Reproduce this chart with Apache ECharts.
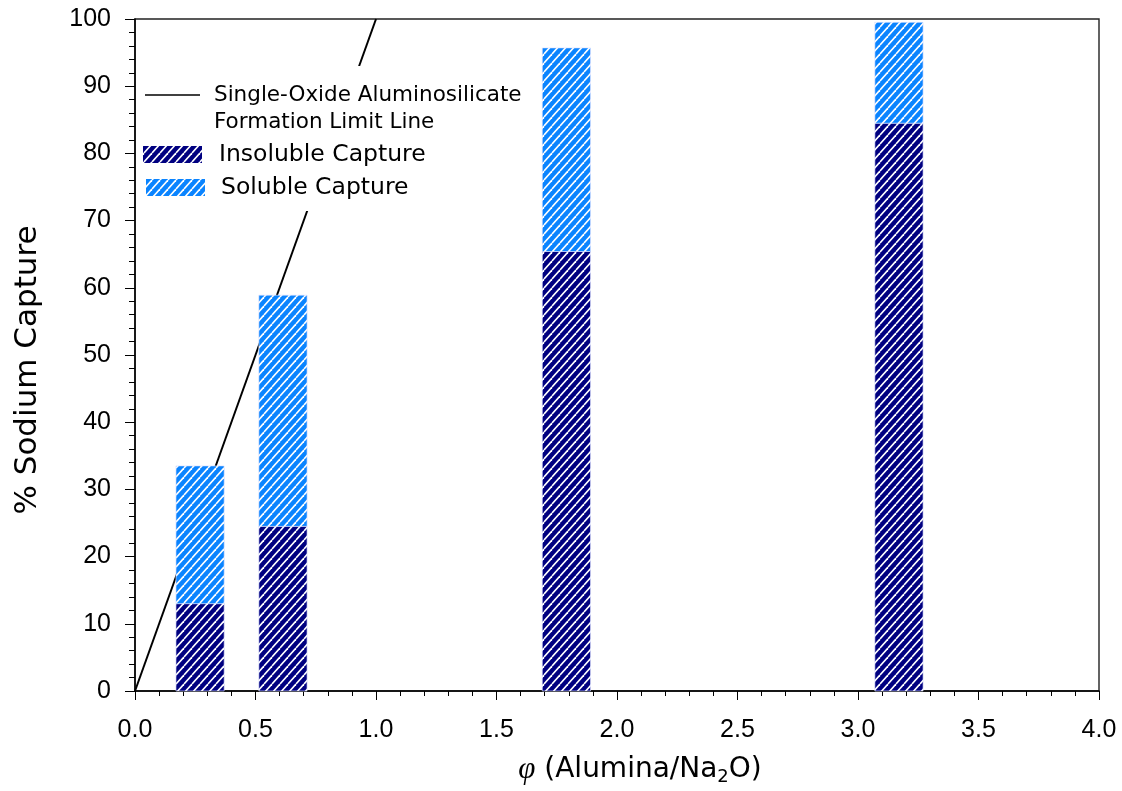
<!DOCTYPE html>
<html>
<head>
<meta charset="utf-8">
<script src="https://cdn.jsdelivr.net/npm/echarts@6/dist/echarts.min.js"></script>
<style>
html,body{margin:0;padding:0;background:#fff;}
#chart{width:1122px;height:791px;}
</style>
</head>
<body>
<div id="chart"></div>
<script>
// ---- data ----
const phi = [0.27, 0.614, 1.79, 3.17];
const insoluble = [13.0, 24.5, 65.4, 84.5];
const soluble = [20.5, 34.4, 30.3, 15.0];
const limitLine = [[0, 0], [1, 100]];
const xTicks = ['0.0','0.5','1.0','1.5','2.0','2.5','3.0','3.5','4.0'];
const legendNames = ['Single-Oxide Aluminosilicate', 'Formation Limit Line', 'Insoluble Capture', 'Soluble Capture'];

function hatch(bg) {
  const w = 8, h = 9;
  const c = document.createElement('canvas');
  c.width = w; c.height = h;
  const ctx = c.getContext('2d');
  ctx.fillStyle = bg; ctx.fillRect(0, 0, w, h);
  ctx.strokeStyle = '#ffffff'; ctx.lineWidth = 1.6;
  for (const dx of [-w, 0, w]) {
    ctx.beginPath(); ctx.moveTo(dx, h); ctx.lineTo(dx + w, 0); ctx.stroke();
  }
  return { image: c, repeat: 'repeat' };
}
const navy = '#000080', blue = '#0a84ff';
const patNavy = hatch(navy), patBlue = hatch(blue);

const insolData = phi.map((p, i) => [p, 0, insoluble[i]]);
const solData = phi.map((p, i) => [p, insoluble[i], insoluble[i] + soluble[i]]);
const halfW = 0.1;

function makeRender(pat) {
  return function (params, api) {
    const x = api.value(0), y0 = api.value(1), y1 = api.value(2);
    const a = api.coord([x - halfW, y1]);
    const b = api.coord([x + halfW, y0]);
    return {
      type: 'rect',
      shape: { x: a[0], y: a[1], width: b[0] - a[0], height: b[1] - a[1] },
      style: { fill: pat, stroke: 'rgba(220,225,255,0.8)', lineWidth: 0.8 }
    };
  };
}

const chart = echarts.init(document.getElementById('chart'), null, { renderer: 'canvas' });
const tickFont = { fontFamily: 'Liberation Sans', fontSize: 25, color: '#000' };
const legFont = 'DejaVu Sans';

chart.setOption({
  animation: false,
  backgroundColor: '#fff',
  grid: { left: 135, right: 23, top: 19, bottom: 100, show: true, borderColor: '#222', borderWidth: 1.4, backgroundColor: 'transparent' },
  xAxis: {
    type: 'value', min: 0, max: 4, interval: 0.5,
    axisLine: { show: true, lineStyle: { color: '#000', width: 1.5 } },
    axisTick: { show: true, inside: false, length: 9, lineStyle: { color: '#000', width: 1 } },
    minorTick: { show: true, splitNumber: 5, length: 5, lineStyle: { color: '#000', width: 1 } },
    splitLine: { show: false },
    axisLabel: Object.assign({ margin: 27, formatter: (v) => xTicks[Math.round(v / 0.5)] }, tickFont)
  },
  yAxis: {
    type: 'value', min: 0, max: 100, interval: 10,
    axisLine: { show: true, lineStyle: { color: '#000', width: 1.5 } },
    axisTick: { show: true, inside: false, length: 10, lineStyle: { color: '#000', width: 1 } },
    minorTick: { show: true, splitNumber: 5, length: 6, lineStyle: { color: '#000', width: 1 } },
    splitLine: { show: false },
    axisLabel: Object.assign({ margin: 24 }, tickFont)
  },
  series: [
    { type: 'line', data: limitLine, symbol: 'none', lineStyle: { color: '#000', width: 2 }, z: 1, silent: true },
    { type: 'custom', name: 'Insoluble Capture', data: insolData, renderItem: makeRender(patNavy), encode: { x: 0, y: [1, 2] }, z: 2 },
    { type: 'custom', name: 'Soluble Capture', data: solData, renderItem: makeRender(patBlue), encode: { x: 0, y: [1, 2] }, z: 2 }
  ],
  graphic: [
    { type: 'rect', z: 50, shape: { x: 138, y: 66, width: 390, height: 145 }, style: { fill: '#fff' } },
    { type: 'line', z: 51, shape: { x1: 145, y1: 95, x2: 200, y2: 95 }, style: { stroke: '#000', lineWidth: 1.5 } },
    { type: 'text', z: 51, style: { x: 214, y: 95, text: legendNames[0], font: '21.5px "' + legFont + '"', fill: '#000', verticalAlign: 'middle' } },
    { type: 'text', z: 51, style: { x: 214, y: 122, text: legendNames[1], font: '21.5px "' + legFont + '"', fill: '#000', verticalAlign: 'middle' } },
    { type: 'rect', z: 51, shape: { x: 143, y: 146, width: 59, height: 17 }, style: { fill: patNavy } },
    { type: 'text', z: 51, style: { x: 219, y: 155, text: legendNames[2], font: '23.5px "' + legFont + '"', fill: '#000', verticalAlign: 'middle' } },
    { type: 'rect', z: 51, shape: { x: 146, y: 179, width: 59, height: 17 }, style: { fill: patBlue } },
    { type: 'text', z: 51, style: { x: 221, y: 188, text: legendNames[3], font: '23.5px "' + legFont + '"', fill: '#000', verticalAlign: 'middle' } },
    { type: 'text', z: 51, x: 28, y: 370, rotation: Math.PI / 2,
      style: { x: 0, y: 0, text: '% Sodium Capture', font: '31px "' + legFont + '"', fill: '#000', align: 'center', verticalAlign: 'middle' } },
    { type: 'text', z: 51, style: { x: 640, y: 770, align: 'center', verticalAlign: 'middle',
      text: '{phi|φ} (Alumina/Na{sub|2}O)',
      rich: {
        phi: { fontFamily: 'Liberation Serif', fontStyle: 'italic', fontSize: 31, fill: '#000' },
        sub: { fontFamily: legFont, fontSize: 18, fill: '#000', verticalAlign: 'bottom', padding: [14, 0, 0, 0] }
      },
      font: '28px "' + legFont + '"', fill: '#000' } }
  ]
});
</script>
</body>
</html>
